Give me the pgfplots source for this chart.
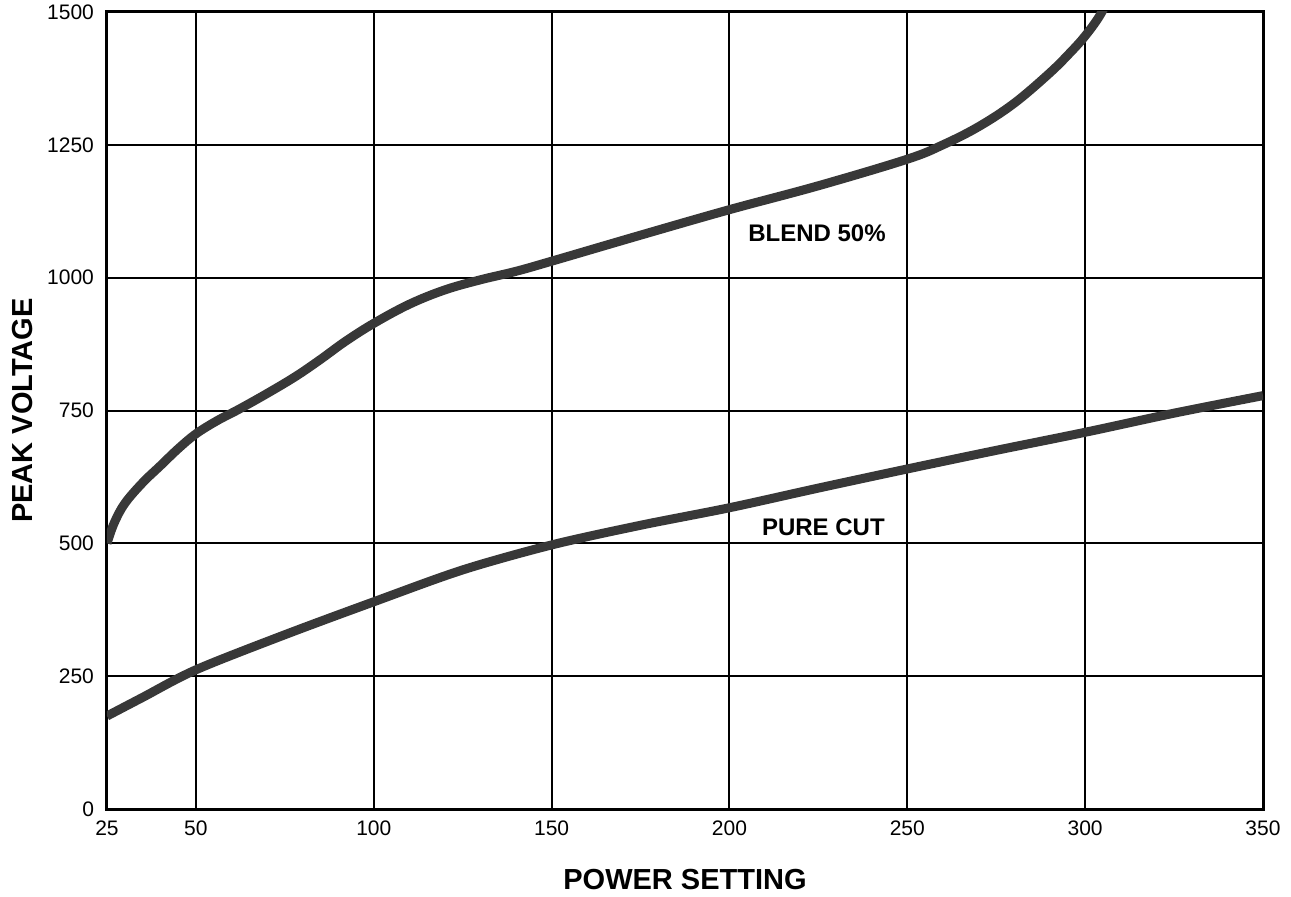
\documentclass[border=0pt]{standalone}
\usepackage{fontspec}
\setmainfont{Liberation Sans}
\usepackage{pgfplots}
\pgfplotsset{compat=1.18}

\definecolor{curve}{gray}{0.22}

\begin{document}
\begin{tikzpicture}
\begin{axis}[
  name=ax,
  scale only axis,
  width=578pt, height=398.5pt,
  xmin=25, xmax=350, ymin=0, ymax=1500,
  xtick={25,50,100,150,200,250,300,350},
  ytick={0,250,500,750,1000,1250,1500},
  grid=major,
  major grid style={black, line width=1pt},
  axis line style={black, line width=1.5pt},
  major tick length=0pt,
  tick label style={font=\fontsize{10.5}{12}\selectfont},
  /pgf/number format/assume math mode=true,
  /pgf/number format/1000 sep={},
  xticklabel style={yshift=-2.5pt},
  yticklabel style={xshift=-3pt},
  xlabel={POWER SETTING},
  ylabel={PEAK VOLTAGE},
  label style={font=\fontsize{14.5}{17}\selectfont\bfseries},
  xlabel style={at={(axis description cs:0.5,-0.088)}, anchor=center},
  ylabel style={at={(axis description cs:-0.0735,0.5)}, anchor=center},
]
% blend 50%
\addplot[curve, line width=4.5pt, smooth, tension=0.6] coordinates {
  (25,500) (27,538) (30,575) (35,614) (40,646) (45,678) (50,706)
  (56,731) (62,752) (70,782) (78,814) (85,846) (92,880) (100,914)
  (110,950) (120,977) (130,996) (140,1012) (150,1031) (175,1080)
  (200,1128) (225,1173) (250,1223) (260,1250) (270,1284) (280,1328)
  (290,1385) (296,1425) (300,1455) (304,1492) (307,1530)
};
% pure cut
\addplot[curve, line width=4.5pt, smooth] coordinates {
  (25,175) (35,210) (50,262) (75,328) (100,390) (125,450) (150,497)
  (175,534) (200,567) (225,604) (250,640) (275,675) (300,709)
  (325,745) (350,778)
};
\node[font=\fontsize{12}{14}\selectfont\bfseries] at (axis cs:224.6,1083) {BLEND 50\%};
\node[font=\fontsize{12}{14}\selectfont\bfseries] at (axis cs:226.4,531) {PURE CUT};
\end{axis}
\pgfresetboundingbox
\path ([xshift=-53.5pt,yshift=-43.5pt]ax.south west) rectangle ([xshift=14pt,yshift=6pt]ax.north east);
\end{tikzpicture}
\end{document}
